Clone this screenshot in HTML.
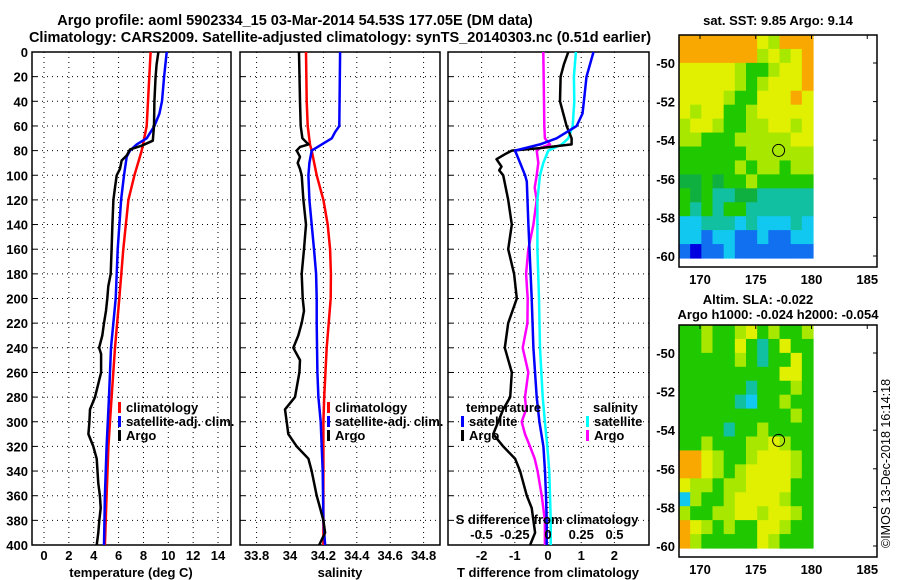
<!DOCTYPE html>
<html><head><meta charset="utf-8">
<style>
html,body{margin:0;padding:0;background:#fff;}
svg{display:block;font-family:"Liberation Sans",sans-serif;font-weight:bold;}
text{font-size:13px;fill:#000;}
</style></head>
<body>
<svg id="chart" width="900" height="580" viewBox="0 0 900 580">
<text x="295" y="25" text-anchor="middle" style="font-size:14.5px">Argo profile: aoml 5902334_15 03-Mar-2014 54.53S 177.05E (DM data)</text>
<text x="340" y="42" text-anchor="middle" style="font-size:14.5px">Climatology: CARS2009. Satellite-adjusted climatology: synTS_20140303.nc (0.51d earlier)</text>
<g id="plots"></g>
<text x="778" y="25" text-anchor="middle">sat. SST: 9.85 Argo: 9.14</text>
<text x="758" y="304" text-anchor="middle">Altim. SLA: -0.022</text>
<text x="778" y="319" text-anchor="middle">Argo h1000: -0.024 h2000: -0.054</text>
<text transform="translate(890,548) rotate(-90)" style="font-size:12.5px;font-weight:normal">©IMOS 13-Dec-2018 16:14:18</text>
</svg>
<script>
// depth levels (m)
const depthT = [0,10,20,40,60,72,76,79,84,88,95,100,110,120,140,160,180,190,200,210,220,230,240,245,260,280,290,300,310,320,330,350,360,370,380,390,400];
const argoTemp = [9.2,9.06,8.98,8.88,8.85,8.75,7.86,6.92,6.65,6.25,6.11,5.85,5.71,5.58,5.5,5.44,5.37,5.17,5.09,4.99,4.83,4.69,4.43,4.59,4.59,4.1,3.7,3.65,3.57,3.97,4.24,4.37,4.5,4.56,4.45,4.37,4.24];
const depthClimT = [0,60,80,100,120,160,200,240,280,320,360,400];
const climTemp = [8.58,8.26,7.86,7.27,6.79,6.38,6.06,5.71,5.44,5.18,5.04,4.9];
const depthSatT = [0,20,40,50,60,70,75,80,85,100,120,160,200,240,280,320,360,400];
const satTemp = [9.87,9.66,9.49,9.28,8.88,8.26,7.46,6.92,6.65,6.44,6.2,5.93,5.77,5.39,5.23,5.04,4.9,4.83];

const depthClimS = [0,40,60,75,80,100,120,140,160,180,200,240,280,300,320,360,400];
const climSal = [34.096,34.1,34.106,34.12,34.13,34.16,34.2,34.226,34.24,34.245,34.244,34.22,34.205,34.2,34.2,34.2,34.2];
const depthSatS = [0,60,65,70,80,90,100,120,140,160,180,200,220,260,280,300,340,380,400];
const satSal = [34.3,34.295,34.27,34.25,34.13,34.116,34.11,34.116,34.13,34.144,34.156,34.16,34.16,34.164,34.17,34.184,34.196,34.2,34.21];
const depthArgoS = [0,40,60,70,75,77,80,85,90,95,100,120,140,160,180,200,210,220,230,240,250,260,280,290,300,310,320,330,340,360,370,380,390,400];
const argoSal = [34.054,34.06,34.064,34.074,34.11,34.06,34.04,34.06,34.046,34.06,34.07,34.08,34.096,34.084,34.07,34.076,34.084,34.07,34.05,34.02,34.06,34.056,34.03,33.97,33.98,33.99,34.04,34.11,34.13,34.16,34.18,34.2,34.21,34.175];

const depthDT = [0,20,40,50,60,70,75,80,90,100,105,140,200,240,280,300,320,340,360,380,400];
const satTDiff = [1.37,1.16,1.08,1.04,0.86,0.26,-0.24,-0.99,-0.84,-0.69,-0.64,-0.59,-0.49,-0.44,-0.34,-0.26,-0.14,-0.09,-0.06,-0.04,-0.04];
const depthADT = [0,10,20,40,60,70,75,78,80,83,87,93,96,100,120,140,160,180,200,220,240,260,280,290,300,310,320,330,340,360,370,380,390,400];
const argoTDiff = [0.61,0.48,0.38,0.36,0.56,0.71,0.71,-0.24,-1.09,-1.3,-1.55,-1.4,-1.47,-1.35,-1.2,-1.09,-1.2,-1.02,-0.94,-1.2,-1.3,-1.09,-1.14,-1.35,-1.5,-1.65,-1.35,-0.99,-0.84,-0.64,-0.49,-0.44,-0.39,-0.54];
const depthDS = [0,20,40,60,70,75,80,90,100,120,160,200,240,280,300,320,340,360,380,400];
const satSDiff = [0.21,0.195,0.198,0.186,0.153,0.103,0.002,-0.035,-0.06,-0.08,-0.08,-0.068,-0.06,-0.04,-0.023,-0.005,0.01,0.015,0.02,0.02];
const depthADS = [0,40,60,70,75,78,80,90,100,110,120,140,160,180,200,220,240,260,280,290,300,310,320,330,340,360,380,400];
const argoSDiff = [-0.035,-0.03,-0.028,-0.023,0.015,-0.06,-0.085,-0.073,-0.085,-0.1,-0.085,-0.11,-0.148,-0.165,-0.153,-0.155,-0.19,-0.148,-0.173,-0.165,-0.198,-0.173,-0.135,-0.1,-0.078,-0.047,-0.023,-0.023];

const depthTicks = [0,20,40,60,80,100,120,140,160,180,200,220,240,260,280,300,320,340,360,380,400];
const tempTicks = [0,2,4,6,8,10,12,14];
const salTicks = [33.8,34,34.2,34.4,34.6,34.8];
const tdTicks = [-2,-1,0,1,2];
const sdTicks = [-0.5,-0.25,0,0.25,0.5];
const lonTicks = [170,175,180,185];
const latTicks = [-50,-52,-54,-56,-58,-60];

// map colour grids (12 cols x 16 rows)
const sstGrid = ["OOOOOOOYLOOO","OOOOOOOLYLYO","YYYYYLGGLYYO","YYYYYLGLYYYO","YYYYLGGYYYOY","YLYYGGLYYYYY","LYYLGGLLYYLY","LLGGGLLLLLYY","GGGGGGLLLLLL","GGGGGLGLLGLL","DDGDGGLGGGGG","GDGTTDDTTTTT","GTGTGGTTTTTT","CCTTTCTCCCTC","CCBCCBBCBBCC","BNBBCBBBBBBB"];
const slaGrid = ["GGLGGLYGLGGL","GGLGGYGTGYGG","GGGGGLGTGGYG","GGGGGGGGGYYG","GGGGGGTGGGLG","GGGGGTCGGLGG","GGGGGGGGGGLG","GGGGTGGLGGGG","GGLGGGLLYLGG","OOYLGGLYYYLG","OOYLGLYYYYLG","YLLGLLYYYYGG","CLGGLYYYYLGG","LGGLLYYLYYLG","OYLGLGGYYLGG","OLGGGGGYLGGG"];
const palette = {O:"#f8a800",Y:"#e0f000",L:"#a8e800",G:"#20c800",D:"#10b040",T:"#10c0a0",C:"#10c8f0",B:"#1070f0",N:"#0000e0"};
const argoLon = 177.05, argoLat = -54.53;

const NS="http://www.w3.org/2000/svg";
const root=document.getElementById('plots');
function mk(tag,attrs,parent){const e=document.createElementNS(NS,tag);for(const k in attrs)e.setAttribute(k,attrs[k]);(parent||root).appendChild(e);return e;}
const Y0=52, Y1=545;
const yD=d=>Y0+d*(Y1-Y0)/400;

function panel(name,x0,x1,xs,ticks,fmt,grid){
  const g=mk('g',{});
  
  
  ticks.forEach(t=>{const x=xs(t);
    const l=mk('line',{x1:x,x2:x,y1:Y0,y2:Y1,stroke:'#000','stroke-dasharray':'1,4','stroke-width':1},g);
    
    const tx=mk('text',{x:x,y:560,'text-anchor':'middle'},g);tx.textContent=fmt(t);
    });
  depthTicks.forEach(d=>{const y=yD(d);
    const l=mk('line',{x1:x0,x2:x1,y1:y,y2:y,stroke:'#000','stroke-dasharray':'1,4'},g);
    
    mk('line',{x1:x0,x2:x0+5,y1:y,y2:y,stroke:'#000'},g);});
  const r=mk('rect',{x:x0,y:Y0,width:x1-x0,height:Y1-Y0,fill:'none',stroke:'#000','stroke-width':1.5},g);
  
  return g;
}
function line(g,xs,vals,depths,color,name){
  const p=vals.map((v,i)=>xs(v).toFixed(1)+','+yD(depths[i]).toFixed(1)).join(' ');
  const e=mk('polyline',{points:p,fill:'none',stroke:color,'stroke-width':2.5,'stroke-linejoin':'round'},g);
  
}
function legend(g,x,y,color,label,name){
  mk('rect',{x:x,y:y-10,width:3,height:11,fill:color},g);
  const t=mk('text',{x:x+8,y:y},g);t.textContent=label;
  
}
// depth labels
depthTicks.forEach(d=>{const t=mk('text',{x:28,y:yD(d)+5,'text-anchor':'end'});t.textContent=d;
  });

// temperature
const xT=t=>44+t*12.43;
const g1=panel('temperature',32,231,xT,tempTicks,String);
line(g1,xT,climTemp,depthClimT,'#f00','temp-climatology-line');
line(g1,xT,satTemp,depthSatT,'#00f','temp-satellite-line');
line(g1,xT,argoTemp,depthT,'#000','temp-argo-line');
legend(g1,118,412,'#f00','climatology','legend-climatology');
legend(g1,118,426,'#00f','satellite-adj. clim.','legend-satellite');
legend(g1,118,440,'#000','Argo','legend-argo');
let t=mk('text',{x:131,y:577,'text-anchor':'middle'});t.textContent='temperature (deg C)';


// salinity
const xS=s=>290+(s-34)*167;
const g2=panel('salinity',240,440,xS,salTicks,v=>String(+v.toFixed(1)));
line(g2,xS,climSal,depthClimS,'#f00','sal-climatology-line');
line(g2,xS,satSal,depthSatS,'#00f','sal-satellite-line');
line(g2,xS,argoSal,depthArgoS,'#000','sal-argo-line');
legend(g2,327,412,'#f00','climatology','legend-climatology');
legend(g2,327,426,'#00f','satellite-adj. clim.','legend-satellite');
legend(g2,327,440,'#000','Argo','legend-argo');
t=mk('text',{x:340,y:577,'text-anchor':'middle'});t.textContent='salinity';


// differences
const xDT=v=>548+v*33.2, xDS=v=>548+v*133;
const g3=panel('difference',448,649,xDT,tdTicks,String);
line(g3,xDS,argoSDiff,depthADS,'#f0f','sal-diff-argo-line');
line(g3,xDS,satSDiff,depthDS,'#0ff','sal-diff-satellite-line');
line(g3,xDT,argoTDiff,depthADT,'#000','temp-diff-argo-line');
line(g3,xDT,satTDiff,depthDT,'#00f','temp-diff-satellite-line');
t=mk('text',{x:466,y:412},g3);t.textContent='temperature';
legend(g3,461,426,'#00f','satellite','legend-temp-satellite');
legend(g3,461,440,'#000','Argo','legend-temp-argo');
t=mk('text',{x:593,y:412},g3);t.textContent='salinity';
legend(g3,586,426,'#0ff','satellite','legend-sal-satellite');
legend(g3,586,440,'#f0f','Argo','legend-sal-argo');
t=mk('text',{x:547,y:524,'text-anchor':'middle'},g3);t.textContent='S difference from climatology';

sdTicks.forEach(v=>{const tt=mk('text',{x:xDS(v),y:539,'text-anchor':'middle'},g3);tt.textContent=String(v);
  });
t=mk('text',{x:548,y:577,'text-anchor':'middle'});t.textContent='T difference from climatology';


// maps
function map(name,top,bottom,lat50,grid,dataTop,dataBottom){
  const g=mk('g',{});
  
  const lonX=l=>700+(l-170)*11.15;
  const latY=la=>lat50+(-50-la)*((dataBottom-2-lat50)/10);
  const x0=679,x1=813,rows=grid.length,cols=grid[0].length;
  const cw=(x1-x0)/cols,ch=(dataBottom-dataTop)/rows;
  grid.forEach((row,r)=>{[...row].forEach((c,k)=>{
    const cell=mk('rect',{x:x0+k*cw,y:dataTop+r*ch,width:cw+0.6,height:ch+0.6,fill:palette[c]},g);
    });});
  const f=mk('rect',{x:679,y:top,width:198,height:bottom-top,fill:'none',stroke:'#000','stroke-width':1.5},g);
  
  lonTicks.forEach(l=>{const x=lonX(l);mk('line',{x1:x,x2:x,y1:top,y2:top+4,stroke:'#000'},g);
    const tt=mk('text',{x:x,y:bottom+17,'text-anchor':'middle'},g);tt.textContent=l;
    });
  latTicks.forEach(la=>{const y=latY(la);mk('line',{x1:873,x2:877,y1:y,y2:y,stroke:'#000'},g);
    const tt=mk('text',{x:675,y:y+5,'text-anchor':'end'},g);tt.textContent=la;
    });
  const c=mk('circle',{cx:lonX(argoLon),cy:latY(argoLat),r:6,fill:'none',stroke:'#000','stroke-width':1},g);
  
}
map('sst-map',35,267,63,sstGrid,35,258);
map('sla-map',325,557,353,slaGrid,325,548);
</script>
</body></html>
